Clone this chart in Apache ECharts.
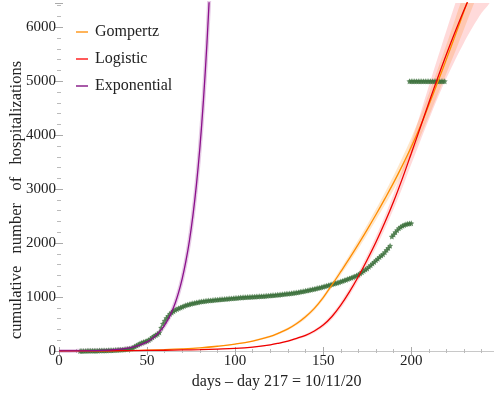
<!DOCTYPE html>
<html>
<head>
<meta charset="utf-8">
<script src="https://cdn.jsdelivr.net/npm/echarts@6/dist/echarts.min.js"></script>
<style>
  html, body { margin: 0; padding: 0; background: #fff; }
  #chart { width: 494px; height: 393px; }
</style>
</head>
<body>
<div id="chart"></div>
<script>
var curveDays = [0, 10, 20, 30, 40, 50, 60, 70, 80, 90, 100, 110, 120, 125, 130, 135, 140, 145,
  150, 155, 160, 165, 170, 175, 180, 185, 190, 195, 200, 205, 210, 215, 220, 225, 230, 235, 240, 245];

var gompertz = [0, 1, 2, 4, 8, 14, 24, 38, 58, 88, 128, 185, 270, 335, 410, 510, 635, 790,
  990, 1225, 1470, 1720, 1980, 2250, 2530, 2820, 3120, 3440, 3780, 4150, 4560, 4980, 5410, 5850, 6300, 6760, 7220, 7690];
var gompLo = [0, 1, 2, 4, 7, 12, 21, 34, 52, 80, 117, 170, 250, 312, 385, 480, 600, 750,
  945, 1175, 1410, 1650, 1900, 2160, 2430, 2705, 2990, 3290, 3610, 3960, 4350, 4750, 5150, 5550, 5970, 6390, 6810, 7240];
var gompHi = [0, 1, 2, 4, 9, 16, 27, 42, 64, 96, 139, 200, 290, 358, 435, 540, 670, 830,
  1035, 1275, 1530, 1790, 2060, 2340, 2630, 2935, 3250, 3590, 3950, 4340, 4770, 5220, 5680, 6160, 6640, 7130, 7630, 8140];

var logistic = [1, 2, 3, 5, 7, 10, 14, 19, 26, 35, 47, 72, 115, 147, 185, 235, 290, 370,
  480, 640, 850, 1100, 1380, 1690, 2020, 2380, 2770, 3200, 3660, 4130, 4600, 5060, 5500, 5920, 6320, 6690, 7030, 7340];
var logLo = [1, 2, 3, 5, 7, 10, 13, 18, 24, 32, 42, 65, 104, 134, 168, 214, 265, 340,
  440, 590, 790, 1030, 1300, 1600, 1915, 2260, 2630, 3030, 3460, 3880, 4290, 4690, 5060, 5400, 5720, 6010, 6270, 6500];
var logHi = [1, 2, 3, 5, 7, 10, 15, 20, 28, 38, 52, 79, 126, 160, 202, 256, 315, 400,
  520, 690, 910, 1170, 1460, 1780, 2125, 2500, 2910, 3370, 3860, 4380, 4910, 5430, 5940, 6440, 6920, 7370, 7790, 8180];

var expDays = [0, 10, 20, 30, 40, 45, 50, 52, 54, 56, 58, 60, 62, 64, 66, 68, 70, 72, 74,
  76, 78, 80, 82, 84, 86, 88];
var exponential = [0.9, 2.5, 7, 20, 58, 100, 170, 210, 260, 320, 390, 480, 590, 725, 890, 1095,
  1345, 1655, 2030, 2500, 3070, 3770, 4640, 5700, 7000, 8600];

// observed cumulative hospitalizations, one per day starting at day 12
var obsStart = 12;
var observed = [
  1, 1, 2, 2, 3, 3, 4, 4, 5, 5, 6, 7, 8, 9, 10, 11, 12, 13, 14,          // 12-30
  16, 17, 19, 21, 23, 25, 28, 31, 35, 40,                                // 31-40
  48, 62, 82, 103, 122, 140, 155, 166, 178, 190,                         // 41-50
  205, 228, 255, 280, 298, 315, 345, 430, 505, 560,                      // 51-60
  610, 650, 690, 715, 738, 758, 776, 792, 806, 820,                      // 61-70
  834, 846, 857, 867, 876, 884, 891, 898, 905, 911,                      // 71-80
  916, 921, 926, 930, 934, 938, 942, 945, 948, 951,                      // 81-90
  954, 957, 960, 963, 966, 969, 972, 975, 978, 981,                      // 91-100
  984, 987, 990, 992, 995, 997, 999, 1001, 1003, 1005,                   // 101-110
  1007, 1009, 1011, 1013, 1015, 1017, 1020, 1023, 1026, 1029,            // 111-120
  1032, 1035, 1038, 1041, 1044, 1047, 1051, 1055, 1059, 1063,            // 121-130
  1067, 1071, 1075, 1080, 1085, 1090, 1096, 1102, 1108, 1115,            // 131-140
  1122, 1129, 1136, 1143, 1150, 1158, 1166, 1174, 1182, 1190,            // 141-150
  1199, 1208, 1217, 1226, 1235, 1245, 1255, 1265, 1276, 1287,            // 151-160
  1298, 1310, 1322, 1334, 1346, 1358, 1370, 1383, 1398, 1415,            // 161-170
  1435, 1458, 1485, 1510, 1530, 1560, 1590, 1620, 1650, 1680,            // 171-180
  1710, 1740, 1770, 1795, 1830, 1870, 1910, 1950, 2120, 2160,            // 181-190
  2200, 2240, 2275, 2300, 2320, 2335, 2348, 2358, 2363, 2366             // 191-200
];
// the flat run of points at 5000
var plateauStart = 199;
var plateau = [5000, 5000, 5000, 5000, 5000, 5000, 5000, 5000, 5000, 5000, 5000,
  5000, 5000, 5000, 5000, 5000, 5000, 5000, 5000, 5000, 5000];

function pairs(xs, ys) {
  return xs.map(function (x, i) { return [x, ys[i]]; });
}

var obsData = observed.map(function (v, i) { return [obsStart + i, v]; })
  .concat(plateau.map(function (v, i) { return [plateauStart + i, v]; }));

var serif = 'Liberation Serif';
var star = 'path://M0,-10L2.9,-4L9.5,-3.1L4.7,1.5L5.9,8.1L0,5L-5.9,8.1L-4.7,1.5L-9.5,-3.1L-2.9,-4Z';

var chart = echarts.init(document.getElementById('chart'), null, { renderer: 'canvas' });

// confidence band as one polygon: upper edge forward, lower edge back
function bandSeries(lo, hi, color) {
  return {
    type: 'custom', silent: true, clip: true, z: 1,
    data: [[curveDays[0], lo[0]]],
    renderItem: function (params, api) {
      var pts = [];
      for (var i = 0; i < curveDays.length; i++) pts.push(api.coord([curveDays[i], hi[i]]));
      for (var j = curveDays.length - 1; j >= 0; j--) pts.push(api.coord([curveDays[j], lo[j]]));
      return { type: 'polygon', shape: { points: pts, smooth: 0.3 }, style: { fill: color } };
    }
  };
}

function plainLabel(v) { return String(v); }

var option = {
  animation: false,
  grid: { left: 59, right: 0, top: 3, bottom: 42, containLabel: false, outerBoundsMode: 'none' },
  legend: {
    orient: 'vertical', left: 71, top: 19, itemGap: 11,
    icon: 'rect', itemWidth: 12, itemHeight: 2,
    textStyle: { fontFamily: serif, fontSize: 16, color: '#222', padding: [0, 0, 0, 2] },
    data: [
      { name: 'Gompertz', itemStyle: { color: '#ffb45a' } },
      { name: 'Logistic', itemStyle: { color: '#ff5a5a' } },
      { name: 'Exponential', itemStyle: { color: '#a85aa8' } }
    ]
  },
  xAxis: [{
    type: 'value', min: 0, max: 247, interval: 50,
    name: 'days \u2013 day 217 = 10/11/20', nameLocation: 'middle', nameGap: 22,
    nameTextStyle: { fontFamily: serif, fontSize: 16, color: '#222' },
    axisLine: { show: true, lineStyle: { color: '#c8c8c8' } },
    axisTick: { inside: true, length: 4, lineStyle: { color: '#aaa' } },
    minorTick: { show: true, splitNumber: 5, length: 2, lineStyle: { color: '#bbb' } },
    axisLabel: { fontFamily: serif, fontSize: 15, color: '#222', margin: 3,
      showMaxLabel: false, formatter: plainLabel },
    splitLine: { show: false }
  }, {
    type: 'value', position: 'top', min: 0, max: 247, interval: 50,
    axisLine: { show: true, lineStyle: { color: '#c8c8c8' } },
    axisTick: { inside: true, length: 4, lineStyle: { color: '#aaa' } },
    minorTick: { show: true, splitNumber: 5, length: 2, lineStyle: { color: '#bbb' } },
    axisLabel: { show: false }, splitLine: { show: false }
  }],
  yAxis: [{
    type: 'value', min: 0, max: 6450, interval: 1000,
    name: 'cumulative   number   of   hospitalizations', nameLocation: 'middle',
    nameGap: 34, nameMoveOverlap: false,
    nameTextStyle: { fontFamily: serif, fontSize: 16.5, color: '#222', padding: [0, 46, 0, 0] },
    axisLine: { show: false },
    axisTick: { show: true, inside: true, length: 4, lineStyle: { color: '#aaa' } },
    minorTick: { show: true, splitNumber: 5, length: 2, lineStyle: { color: '#bbb' } },
    axisLabel: { fontFamily: serif, fontSize: 15, color: '#222', margin: 3,
      showMaxLabel: false, formatter: plainLabel },
    splitLine: { show: false }
  }, {
    type: 'value', position: 'right', min: 0, max: 6450, interval: 1000,
    axisLine: { show: false },
    axisTick: { show: true, inside: true, length: 4, lineStyle: { color: '#aaa' } },
    minorTick: { show: true, splitNumber: 5, length: 2, lineStyle: { color: '#bbb' } },
    axisLabel: { show: false }, splitLine: { show: false }
  }],
  series: [
    bandSeries(gompLo, gompHi, 'rgba(255,175,80,0.3)'),
    bandSeries(logLo, logHi, 'rgba(255,70,70,0.2)'),
    {
      name: 'observed', type: 'scatter', data: obsData,
      symbol: star, symbolSize: 6, silent: true, z: 3,
      itemStyle: { color: '#3b6f3b' }
    }, {
      name: 'Gompertz', type: 'line', data: pairs(curveDays, gompertz),
      smooth: 0.4, symbol: 'none', z: 4,
      lineStyle: { color: '#ff8c00', width: 1.3 }, itemStyle: { color: '#ff8c00' }
    }, {
      name: 'Logistic', type: 'line', data: pairs(curveDays, logistic),
      smooth: 0.4, symbol: 'none', z: 4,
      lineStyle: { color: '#ee0000', width: 1.3 }, itemStyle: { color: '#ee0000' }
    }, {
      name: 'expHalo', type: 'line', data: pairs(expDays, exponential),
      smooth: 0.3, symbol: 'none', silent: true, z: 2,
      lineStyle: { color: 'rgba(170,80,170,0.3)', width: 4 }
    }, {
      name: 'Exponential', type: 'line', data: pairs(expDays, exponential),
      smooth: 0.3, symbol: 'none', z: 4,
      lineStyle: { color: '#8b108b', width: 1.3 }, itemStyle: { color: '#8b108b' }
    }
  ]
};

chart.setOption(option);
</script>
</body>
</html>
